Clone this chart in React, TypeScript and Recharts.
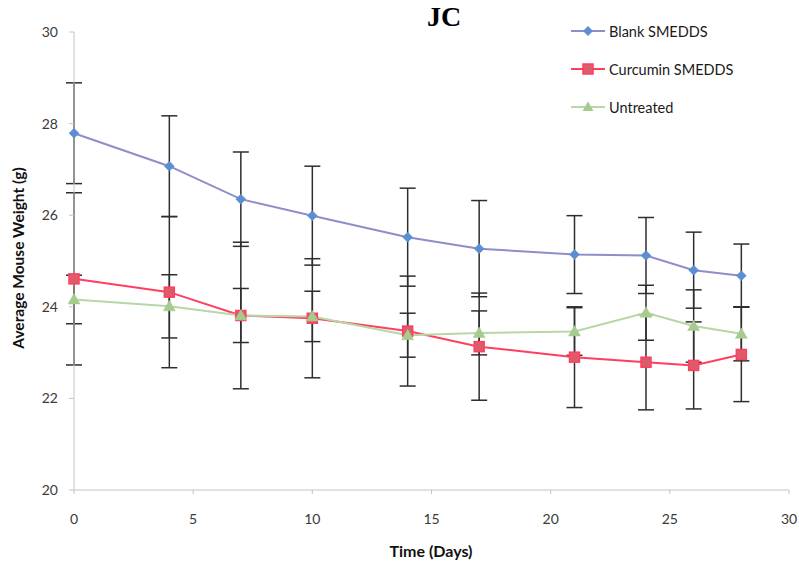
import React from 'react';
import { LineChart, Line, XAxis, YAxis, ErrorBar } from 'recharts';

const days = [0, 4, 7, 10, 14, 17, 21, 24, 26, 28];
const blank = [27.79, 27.07, 26.35, 25.99, 25.52, 25.27, 25.14, 25.12, 24.80, 24.68];
const blankErr = [1.1, 1.1, 1.03, 1.08, 1.07, 1.05, 0.85, 0.83, 0.83, 0.69];
const curcumin = [24.61, 24.32, 23.81, 23.75, 23.47, 23.13, 22.90, 22.79, 22.72, 22.96];
const curcuminErr = [1.88, 1.65, 1.6, 1.3, 1.2, 1.17, 1.1, 1.04, 0.95, 1.03];
const untreated = [24.16, 24.01, 23.81, 23.79, 23.38, 23.43, 23.46, 23.87, 23.58, 23.41];
const untreatedErr = [0.53, 0.69, 0.59, 0.55, 0.48, 0.48, 0.52, 0.6, 0.79, 0.59];
const xTicks = [0, 5, 10, 15, 20, 25, 30];
const yTicks = [20, 22, 24, 26, 28, 30];

const data = days.map((d, i) => ({
  day: d,
  blank: blank[i],
  blankErr: blankErr[i],
  curcumin: curcumin[i],
  curcuminErr: curcuminErr[i],
  untreated: untreated[i],
  untreatedErr: untreatedErr[i],
}));

const BLANK_LINE = '#8e8ec8';
const BLANK_DOT = '#5b8ed2';
const CUR_LINE = '#ff3f5f';
const CUR_DOT = '#dc5c6c';
const UNT_LINE = '#b6d7a6';
const UNT_DOT = '#a5cb8e';
const FONT = 'Lato, "Open Sans", sans-serif';

const Diamond = (props: any) => {
  const { cx, cy } = props;
  if (cx == null || cy == null) return null;
  const r = 5;
  return <polygon points={`${cx},${cy - r} ${cx + r},${cy} ${cx},${cy + r} ${cx - r},${cy}`} fill={BLANK_DOT} stroke={BLANK_DOT} strokeWidth={0.5} />;
};
const Square = (props: any) => {
  const { cx, cy } = props;
  if (cx == null || cy == null) return null;
  const r = 5;
  return <rect x={cx - r} y={cy - r} width={2 * r} height={2 * r} fill={CUR_DOT} stroke={CUR_LINE} strokeWidth={1.5} />;
};
const Triangle = (props: any) => {
  const { cx, cy } = props;
  if (cx == null || cy == null) return null;
  const r = 6;
  return <polygon points={`${cx},${cy - r} ${cx + r},${cy + r * 0.75} ${cx - r},${cy + r * 0.75}`} fill={UNT_DOT} stroke={UNT_DOT} strokeWidth={0.5} />;
};

const LegendIcon = ({ color, shape }: { color: string; shape: string }) => (
  <svg width={34} height={14} style={{ display: 'block' }}>
    <line x1={0} y1={7} x2={34} y2={7} stroke={color} strokeWidth={2} />
    {shape === 'diamond' && <polygon points="17,2 22,7 17,12 12,7" fill={BLANK_DOT} />}
    {shape === 'square' && <rect x={12} y={2} width={10} height={10} fill={CUR_DOT} stroke={CUR_LINE} strokeWidth={1.5} />}
    {shape === 'triangle' && <polygon points="17,1.5 22.5,11 11.5,11" fill={UNT_DOT} />}
  </svg>
);

const legendItems = [
  { name: 'Blank SMEDDS', color: BLANK_LINE, shape: 'diamond' },
  { name: 'Curcumin SMEDDS', color: CUR_LINE, shape: 'square' },
  { name: 'Untreated', color: UNT_LINE, shape: 'triangle' },
];

export default function App() {
  return (
    <div style={{ position: 'relative', width: 799, height: 565, overflow: 'hidden' }}>
      <style>{'html,body{margin:0;padding:0;overflow:hidden;}'}</style>
      <LineChart width={799} height={565} data={data} margin={{ top: 32, right: 10, left: 0, bottom: 0 }}>
        <XAxis
          dataKey="day"
          type="number"
          domain={[0, 30]}
          ticks={xTicks}
          height={75}
          stroke="#c4c4c4"
          tickSize={4}
          tickMargin={20}
          tick={{ fill: '#3a3a3a', fontSize: 14, fontFamily: FONT }}
        />
        <YAxis
          type="number"
          domain={[20, 30]}
          ticks={yTicks}
          width={74}
          stroke="#c4c4c4"
          tickSize={5}
          tickMargin={11}
          tick={{ fill: '#3a3a3a', fontSize: 14, fontFamily: FONT }}
        />
        <Line dataKey="blank" stroke="none" dot={false} activeDot={false} isAnimationActive={false} legendType="none">
          <ErrorBar dataKey="blankErr" direction="y" width={8} stroke="#2e2e2e" strokeWidth={1.5} />
        </Line>
        <Line dataKey="curcumin" stroke="none" dot={false} activeDot={false} isAnimationActive={false} legendType="none">
          <ErrorBar dataKey="curcuminErr" direction="y" width={8} stroke="#2e2e2e" strokeWidth={1.5} />
        </Line>
        <Line dataKey="untreated" stroke="none" dot={false} activeDot={false} isAnimationActive={false} legendType="none">
          <ErrorBar dataKey="untreatedErr" direction="y" width={8} stroke="#2e2e2e" strokeWidth={1.5} />
        </Line>
        <Line dataKey="blank" type="linear" stroke={BLANK_LINE} strokeWidth={2} dot={<Diamond />} activeDot={false} isAnimationActive={false} />
        <Line dataKey="curcumin" type="linear" stroke={CUR_LINE} strokeWidth={2} dot={<Square />} activeDot={false} isAnimationActive={false} />
        <Line dataKey="untreated" type="linear" stroke={UNT_LINE} strokeWidth={2} dot={<Triangle />} activeDot={false} isAnimationActive={false} />
      </LineChart>
      <div style={{ position: 'absolute', left: 344, top: 1, width: 200, textAlign: 'center', fontFamily: '"Liberation Serif", "Times New Roman", serif', fontWeight: 'bold', fontSize: 28, color: '#000' }}>
        JC
      </div>
      <div style={{ position: 'absolute', left: 18 - 110, top: 258 - 10, width: 220, height: 20, lineHeight: '20px', textAlign: 'center', transform: 'rotate(-90deg)', fontFamily: FONT, fontWeight: 'bold', fontSize: 15.5, color: '#111' }}>
        Average Mouse Weight (g)
      </div>
      <div style={{ position: 'absolute', left: 331, top: 541, width: 200, height: 20, lineHeight: '20px', textAlign: 'center', fontFamily: FONT, fontWeight: 'bold', fontSize: 16, color: '#111' }}>
        Time (Days)
      </div>
      {legendItems.map((it, i) => (
        <div key={it.name} style={{ position: 'absolute', left: 571, top: 31 + i * 38 - 10, height: 20, display: 'flex', alignItems: 'center', fontFamily: FONT, fontSize: 14.5, color: '#1a1a1a' }}>
          <LegendIcon color={it.color} shape={it.shape} />
          <span style={{ marginLeft: 4 }}>{it.name}</span>
        </div>
      ))}
    </div>
  );
}
